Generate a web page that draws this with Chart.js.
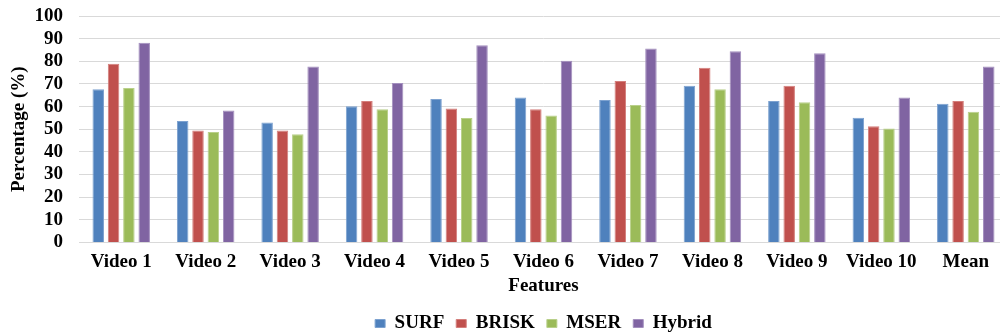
<!DOCTYPE html>
<html>
<head>
<meta charset="utf-8">
<script src="https://cdn.jsdelivr.net/npm/chart.js@4/dist/chart.umd.min.js"></script>
<style>
  html, body { margin: 0; padding: 0; background: #ffffff; overflow: hidden; }
  #wrap { position: absolute; left: 0; top: 0; width: 1008px; height: 343px; }
</style>
</head>
<body>
<div id="wrap"><canvas id="chart"></canvas></div>
<script>
// Recognition percentage per video for each feature detector
const categories = ['Video 1', 'Video 2', 'Video 3', 'Video 4', 'Video 5', 'Video 6',
                    'Video 7', 'Video 8', 'Video 9', 'Video 10', 'Mean'];
const surf   = [67.7, 53.6, 53.0, 60.1, 63.4, 64.0, 62.9, 69.2, 62.5, 55.1, 61.3];
const brisk  = [78.9, 49.4, 49.4, 62.5, 59.2, 58.8, 71.3, 77.1, 69.2, 51.3, 62.5];
const mser   = [68.2, 48.8, 47.8, 58.8, 55.0, 56.1, 60.7, 67.7, 61.9, 50.3, 57.7];
const hybrid = [88.2, 58.3, 77.7, 70.4, 87.1, 80.2, 85.6, 84.4, 83.5, 64.0, 77.7];
const seriesNames = ['SURF', 'BRISK', 'MSER', 'Hybrid'];
const yTicks = [0, 10, 20, 30, 40, 50, 60, 70, 80, 90, 100];

const fills   = ['#4F81BD', '#C0504D', '#9BBB59', '#8064A2'];
const borders = ['#7DA2D0', '#D47F7C', '#B9D08A', '#A38FBE'];
const values  = [surf, brisk, mser, hybrid];

const font = { family: "'Liberation Serif', 'Times New Roman', serif", weight: 'bold', size: 19, lineHeight: 1.0 };

Chart.defaults.font.family = font.family;
Chart.defaults.color = '#000000';

new Chart(document.getElementById('chart'), {
  type: 'bar',
  data: {
    labels: categories,
    datasets: seriesNames.map((name, i) => ({
      label: name,
      data: values[i],
      backgroundColor: fills[i],
      borderColor: borders[i],
      borderWidth: 1,
      barPercentage: 0.75,
      categoryPercentage: 0.726
    }))
  },
  options: {
    responsive: true,
    maintainAspectRatio: false,
    animation: false,
    devicePixelRatio: 1,
    layout: { padding: { left: 4, right: 0, top: 16, bottom: 0 } },
    plugins: {
      tooltip: { enabled: false },
      legend: {
        position: 'bottom',
        fullSize: false,
        labels: {
          font: font,
          color: '#000000',
          boxWidth: 10,
          boxHeight: 8,
          padding: 12
        }
      }
    },
    scales: {
      x: {
        grid: { display: false, drawTicks: false },
        border: { display: true, color: '#D9D9D9', width: 1 },
        ticks: { font: font, color: '#000000', padding: 10, maxRotation: 0, autoSkip: false },
        title: { display: true, text: 'Features', font: font, color: '#000000', padding: { top: -4.5, bottom: 6 } }
      },
      y: {
        min: 0,
        max: 100,
        afterBuildTicks: (axis) => { axis.ticks = yTicks.map(v => ({ value: v })); },
        // keep the top of the plot governed by the layout padding only
        afterFit: (axis) => { axis.paddingTop = 0; axis.paddingBottom = 0; },
        grid: { color: '#D9D9D9', lineWidth: 1, drawTicks: false },
        border: { display: false },
        ticks: { font: font, color: '#000000', padding: 16, autoSkip: false },
        title: { display: true, text: 'Percentage (%)', font: font, color: '#000000', padding: { top: 5.5, bottom: -10 } }
      }
    }
  }
});
</script>
</body>
</html>
